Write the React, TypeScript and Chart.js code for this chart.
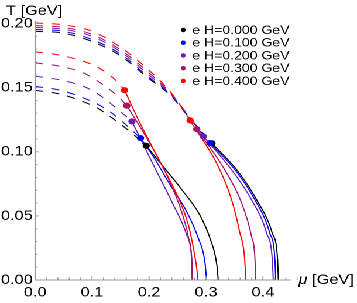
import React, { useEffect, useRef } from "react";
import { Chart, registerables } from "chart.js";

Chart.register(...registerables);

// ---------- data (μ [GeV], T [GeV]) ----------
const fieldLabels = [
  "e H=0.000 GeV",
  "e H=0.100 GeV",
  "e H=0.200 GeV",
  "e H=0.300 GeV",
  "e H=0.400 GeV",
];
const fieldColors = ["#000000", "#0000ff", "#6a1fb3", "#a3176a", "#ff0000"];

// lower branch, dashed part (from μ = 0 to the marked point)
const lowDashed: number[][][] = [
  [[0, 0.148], [0.044, 0.145], [0.085, 0.139], [0.11, 0.134], [0.13, 0.128], [0.15, 0.1215], [0.1725, 0.1135], [0.195, 0.1047]],
  [[0, 0.151], [0.044, 0.148], [0.085, 0.142], [0.11, 0.137], [0.129, 0.132], [0.148, 0.1255], [0.167, 0.118], [0.185, 0.1107]],
  [[0, 0.159], [0.044, 0.156], [0.085, 0.151], [0.108, 0.1458], [0.1316, 0.138], [0.148, 0.132], [0.17, 0.1237]],
  [[0, 0.1693], [0.044, 0.1667], [0.085, 0.1615], [0.105, 0.1565], [0.128, 0.1495], [0.146, 0.143], [0.161, 0.136]],
  [[0, 0.178], [0.044, 0.1753], [0.085, 0.1705], [0.105, 0.167], [0.12, 0.1632], [0.143, 0.1552], [0.157, 0.148]],
];
// lower branch, solid part (from the marked point down to T = 0)
const lowSolid: number[][][] = [
  [[0.195, 0.1047], [0.225, 0.0885], [0.26, 0.069], [0.289, 0.0508], [0.307, 0.0326], [0.319, 0.0117], [0.3215, 0]],
  [[0.185, 0.1107], [0.2075, 0.0963], [0.237, 0.0742], [0.266, 0.0534], [0.2865, 0.0326], [0.298, 0.0143], [0.301, 0]],
  [[0.17, 0.1237], [0.2075, 0.0898], [0.2426, 0.0586], [0.266, 0.0352], [0.275, 0.017], [0.2766, 0]],
  [[0.161, 0.136], [0.196, 0.1107], [0.231, 0.082], [0.257, 0.0534], [0.2707, 0.03], [0.275, 0.0117], [0.2755, 0]],
  [[0.157, 0.148], [0.184, 0.1225], [0.219, 0.0925], [0.251, 0.0645], [0.269, 0.043], [0.279, 0.0221], [0.284, 0.008], [0.2855, 0]],
];
// upper branch, dashed part
const highDashed: number[][][] = [
  [[0, 0.194], [0.05, 0.1925], [0.1, 0.186], [0.15, 0.1748], [0.2, 0.157], [0.237, 0.1443], [0.27, 0.127], [0.3105, 0.1066]],
  [[0, 0.1955], [0.05, 0.194], [0.1, 0.1875], [0.15, 0.1762], [0.2, 0.158], [0.237, 0.1448], [0.27, 0.1272], [0.307, 0.1068]],
  [[0, 0.197], [0.05, 0.1955], [0.1, 0.19], [0.15, 0.178], [0.2, 0.1598], [0.237, 0.1455], [0.265, 0.1305], [0.2953, 0.112]],
  [[0, 0.1985], [0.05, 0.197], [0.1, 0.1915], [0.15, 0.1795], [0.2, 0.1615], [0.237, 0.1462], [0.26, 0.1335], [0.2837, 0.1177]],
  [[0, 0.2005], [0.05, 0.199], [0.1, 0.194], [0.15, 0.1815], [0.2, 0.1635], [0.237, 0.147], [0.254, 0.1367], [0.272, 0.1245]],
];
// upper branch, solid part
const highSolid: number[][][] = [
  [[0.3105, 0.1066], [0.354, 0.0859], [0.389, 0.0625], [0.4164, 0.0365], [0.4257, 0.0156], [0.427, 0]],
  [[0.307, 0.1068], [0.351, 0.0859], [0.386, 0.0625], [0.412, 0.0365], [0.421, 0.0156], [0.4223, 0]],
  [[0.2953, 0.112], [0.345, 0.0859], [0.38, 0.0625], [0.4065, 0.0365], [0.4164, 0.0156], [0.418, 0]],
  [[0.2837, 0.1177], [0.333, 0.0859], [0.3626, 0.06], [0.38, 0.0339], [0.386, 0.0156], [0.387, 0]],
  [[0.272, 0.1245], [0.3216, 0.0885], [0.345, 0.0625], [0.3596, 0.0365], [0.368, 0.0156], [0.3697, 0]],
];
// marked points
const lowDots: number[][] = [[0.195, 0.1047], [0.185, 0.1107], [0.17, 0.1237], [0.161, 0.136], [0.157, 0.148]];
const highDots: number[][] = [[0.3105, 0.1066], [0.307, 0.1068], [0.2953, 0.112], [0.2837, 0.1177], [0.272, 0.1245]];

const xTicks = [0, 0.1, 0.2, 0.3, 0.4];
const yTicks = [0, 0.05, 0.1, 0.15, 0.2];
const xMinorStep = 0.02;
const yMinorStep = 0.01;
const xMax = 0.45;
const yMax = 0.202;

// ---------- layout ----------
const W = 305;
const H = 303;
const SX = 357 / W;
const FONT = "'Liberation Sans', Arial, Helvetica, sans-serif";
const AXIS_COLOR = "#9a9a9a";

const toXY = (pts: number[][]) => pts.map(([x, y]) => ({ x, y }));

function buildDatasets() {
  const ds: any[] = [];
  // dots first (drawn on top), red first
  for (let i = fieldColors.length - 1; i >= 0; i--) {
    ds.push({
      label: fieldLabels[i],
      data: toXY([lowDots[i], highDots[i]]),
      showLine: false,
      pointRadius: 3.1,
      pointHoverRadius: 3.1,
      pointBackgroundColor: fieldColors[i],
      pointBorderWidth: 0,
      backgroundColor: fieldColors[i],
      borderColor: fieldColors[i],
    });
  }
  for (let i = fieldColors.length - 1; i >= 0; i--) {
    const c = fieldColors[i];
    const line = (pts: number[][], dashed: boolean) => ({
      label: "",
      data: toXY(pts),
      showLine: true,
      borderColor: c,
      backgroundColor: c,
      borderWidth: 1,
      borderDash: dashed ? [7, 7] : [],
      pointRadius: 0,
      pointHoverRadius: 0,
      cubicInterpolationMode: "monotone",
      fill: false,
    });
    ds.push(line(highSolid[i], false), line(highDashed[i], true), line(lowSolid[i], false), line(lowDashed[i], true));
  }
  return ds;
}

const decorPlugin = {
  id: "decor",
  afterDatasetsDraw(chart: any) {
    const ctx = chart.ctx;
    const xs = chart.scales.x;
    const ys = chart.scales.y;
    const { left, right, top, bottom } = chart.chartArea;
    ctx.save();
    ctx.strokeStyle = AXIS_COLOR;
    ctx.lineWidth = 1.1;
    ctx.beginPath();
    ctx.moveTo(left, bottom);
    ctx.lineTo(right, bottom);
    ctx.moveTo(left, bottom);
    ctx.lineTo(left, top);
    ctx.stroke();
    ctx.lineWidth = 0.9;
    ctx.beginPath();
    const nx = Math.round(xMax / xMinorStep);
    for (let k = 0; k <= nx; k++) {
      const v = k * xMinorStep;
      const px = xs.getPixelForValue(v);
      const major = k % 5 === 0;
      ctx.moveTo(px, bottom);
      ctx.lineTo(px, bottom - (major ? 4 : 2.5));
    }
    const ny = Math.floor(yMax / yMinorStep + 1e-9);
    for (let k = 0; k <= ny; k++) {
      const v = k * yMinorStep;
      const py = ys.getPixelForValue(v);
      const major = k % 5 === 0;
      ctx.moveTo(left, py);
      ctx.lineTo(left + (major ? 4 : 2.5) / SX, py);
    }
    ctx.stroke();
    ctx.restore();
  },
  afterDraw(chart: any) {
    const ctx = chart.ctx;
    ctx.save();
    // axis titles
    ctx.fillStyle = "#000";
    ctx.textBaseline = "alphabetic";
    ctx.textAlign = "left";
    ctx.font = `14px ${FONT}`;
    ctx.fillText("T [GeV]", 5, 15);
    const mx = 255;
    const my = 284;
    ctx.font = `italic 14px ${FONT}`;
    ctx.fillText("μ", mx, my);
    const mw = ctx.measureText("μ").width;
    ctx.font = `14px ${FONT}`;
    ctx.fillText(" [GeV]", mx + mw, my);
    // legend
    ctx.font = `12px ${FONT}`;
    ctx.textBaseline = "middle";
    for (let i = 0; i < fieldLabels.length; i++) {
      const y = 30 + i * 12.75;
      ctx.fillStyle = fieldColors[i];
      ctx.beginPath();
      ctx.ellipse(156.6, y, 2.2 / SX, 2.2, 0, 0, Math.PI * 2);
      ctx.fill();
      ctx.fillStyle = "#000";
      ctx.fillText(fieldLabels[i], 164.3, y + 0.5);
    }
    ctx.restore();
  },
};

export default function App() {
  const ref = useRef<HTMLCanvasElement | null>(null);
  useEffect(() => {
    if (!ref.current) return;
    const chart = new Chart(ref.current, {
      type: "scatter",
      data: { datasets: buildDatasets() },
      options: {
        animation: false,
        responsive: false,
        devicePixelRatio: 2,
        events: [],
        layout: { padding: { top: 21, right: 56, left: 0, bottom: 0 } },
        plugins: {
          legend: { display: false },
          tooltip: { enabled: false },
          title: { display: false },
        },
        scales: {
          x: {
            type: "linear",
            min: 0,
            max: xMax,
            grid: { display: false, drawTicks: false },
            border: { display: false },
            afterFit: (s: any) => {
              s.height = 23;
            },
            afterBuildTicks: (s: any) => {
              s.ticks = xTicks.map((v) => ({ value: v }));
            },
            ticks: {
              padding: 4,
              maxRotation: 0,
              autoSkip: false,
              color: "#000",
              font: { family: FONT, size: 14 },
              callback: (v: any) => Number(v).toFixed(1),
            },
          },
          y: {
            type: "linear",
            min: 0,
            max: yMax,
            grid: { display: false, drawTicks: false },
            border: { display: false },
            afterFit: (s: any) => {
              s.width = 30;
            },
            afterBuildTicks: (s: any) => {
              s.ticks = yTicks.map((v) => ({ value: v }));
            },
            ticks: {
              padding: 2,
              autoSkip: false,
              color: "#000",
              font: { family: FONT, size: 14 },
              callback: (v: any) => Number(v).toFixed(2),
            },
          },
        },
      } as any,
      plugins: [decorPlugin],
    });
    return () => chart.destroy();
  }, []);
  return (
    <div
      style={{
        position: "fixed",
        left: 0,
        top: 0,
        width: W,
        height: H,
        transform: `scaleX(${SX})`,
        transformOrigin: "0 0",
        background: "#fff",
      }}
    >
      <canvas ref={ref} width={W} height={H} style={{ display: "block" }} />
    </div>
  );
}
